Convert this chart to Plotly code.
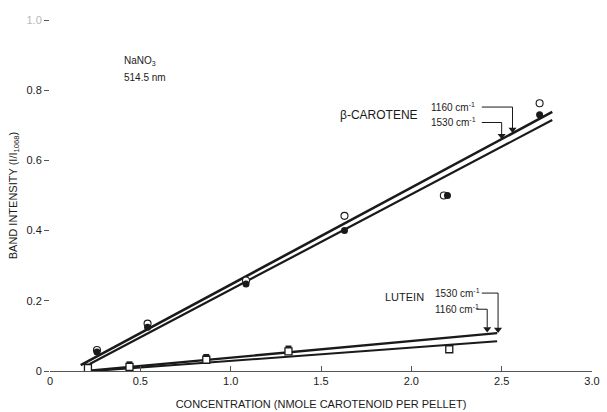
import plotly.graph_objects as go

# Beta-carotene band intensities (open = 1160 cm-1, filled = 1530 cm-1)
beta_conc = [0.26, 0.54, 1.085, 1.63, 2.18, 2.71]
beta_1160 = [0.060, 0.135, 0.258, 0.442, 0.500, 0.763]
beta_1530_conc = [0.26, 0.54, 1.085, 1.63, 2.20, 2.71]
beta_1530 = [0.054, 0.125, 0.248, 0.400, 0.500, 0.730]

# Lutein band intensities
lutein_conc = [0.21, 0.44, 0.865, 1.32, 2.21]
lutein_1160 = [0.008, 0.012, 0.032, 0.056, 0.062]
lutein_1530_conc = [0.21, 0.44, 0.865, 1.32]
lutein_1530 = [0.013, 0.019, 0.040, 0.064]

# Fitted lines
beta_fit_1160_x = [0.17, 2.78]
beta_fit_1160_y = [0.017, 0.738]
beta_fit_1530_x = [0.22, 2.78]
beta_fit_1530_y = [0.020, 0.715]
lutein_fit_1530_x = [0.20, 2.475]
lutein_fit_1530_y = [0.000, 0.108]
lutein_fit_1160_x = [0.24, 2.475]
lutein_fit_1160_y = [0.000, 0.085]

x_ticks = [0, 0.5, 1.0, 1.5, 2.0, 2.5, 3.0]
x_ticktext = ["0", "0.5", "1.0", "1.5", "2.0", "2.5", "3.0"]
y_ticks = [0, 0.2, 0.4, 0.6, 0.8, 1.0]
y_ticktext = ["0", "0.2", "0.4", "0.6", "0.8", "<span style='color:#b8b8b8'>1.0</span>"]

INK = "#1a1a1a"
FONT = "Liberation Sans"

fig = go.Figure()

def fit_line(x, y, w):
    fig.add_trace(go.Scatter(x=x, y=y, mode="lines",
                             line=dict(color=INK, width=w), hoverinfo="skip"))

fit_line(beta_fit_1160_x, beta_fit_1160_y, 2.6)
fit_line(beta_fit_1530_x, beta_fit_1530_y, 2.2)
fit_line(lutein_fit_1530_x, lutein_fit_1530_y, 2.4)
fit_line(lutein_fit_1160_x, lutein_fit_1160_y, 2.0)

# Lutein squares (filled behind, open in front)
fig.add_trace(go.Scatter(x=lutein_1530_conc, y=lutein_1530, mode="markers",
                         marker=dict(symbol="square", size=6, color=INK)))
fig.add_trace(go.Scatter(x=lutein_conc, y=lutein_1160, mode="markers",
                         marker=dict(symbol="square", size=7, color="white",
                                     line=dict(color=INK, width=1.3))))

# Beta-carotene circles
fig.add_trace(go.Scatter(x=beta_conc, y=beta_1160, mode="markers",
                         marker=dict(symbol="circle", size=7, color="white",
                                     line=dict(color=INK, width=1.1))))
fig.add_trace(go.Scatter(x=beta_1530_conc, y=beta_1530, mode="markers",
                         marker=dict(symbol="circle", size=7, color=INK)))

def label(x, y, text, anchor="left", size=10):
    fig.add_annotation(x=x, y=y, text=text, showarrow=False, xanchor=anchor,
                       yanchor="middle", font=dict(family=FONT, size=size, color=INK))

# Leader lines from the band labels down to the fitted lines
tips_x, tips_y = [], []

def pointer(x_text_end, x_arrow, y_text, y_tip):
    fig.add_shape(type="path",
                  path=f"M {x_text_end} {y_text} L {x_arrow} {y_text} L {x_arrow} {y_tip + 0.012}",
                  line=dict(color=INK, width=1))
    tips_x.append(x_arrow)
    tips_y.append(y_tip + 0.008)

label(0.40, 0.882, "NaNO<sub>3</sub>", size=10)
label(0.40, 0.835, "514.5 nm", size=10)

label(2.05, 0.730, "β-CAROTENE", anchor="right", size=12)
label(2.10, 0.752, "1160 cm<sup>-1</sup>", size=10)
label(2.10, 0.708, "1530 cm<sup>-1</sup>", size=10)
pointer(2.39, 2.56, 0.752, 0.680)
pointer(2.39, 2.50, 0.708, 0.662)

label(2.08, 0.210, "LUTEIN", anchor="right", size=11)
label(2.12, 0.222, "1530 cm<sup>-1</sup>", size=10)
label(2.12, 0.176, "1160 cm<sup>-1</sup>", size=10)
pointer(2.39, 2.48, 0.222, 0.110)
pointer(2.36, 2.42, 0.176, 0.112)

fig.add_trace(go.Scatter(x=tips_x, y=tips_y, mode="markers", hoverinfo="skip",
                         marker=dict(symbol="triangle-down", size=7, color=INK)))

fig.update_layout(
    width=607, height=412,
    margin=dict(l=50, r=15, t=20, b=41),
    paper_bgcolor="white", plot_bgcolor="white",
    showlegend=False,
    font=dict(family=FONT, size=11, color=INK),
    xaxis=dict(range=[0, 3.0], tickvals=x_ticks, ticktext=x_ticktext,
               showgrid=False, zeroline=False, showline=True,
               linecolor="#555", linewidth=1, ticks="inside", ticklen=5,
               tickcolor="#555", tickfont=dict(size=11), automargin=False,
               title=dict(text="CONCENTRATION (NMOLE CAROTENOID PER PELLET)",
                          font=dict(size=11), standoff=14)),
    yaxis=dict(range=[0, 1.0], tickvals=y_ticks, ticktext=y_ticktext,
               showgrid=False, zeroline=False, showline=False,
               ticks="outside", ticklen=5, tickcolor="#555",
               tickfont=dict(size=11), automargin=False,
               title=dict(text="BAND INTENSITY (I/I<sub>1068</sub>)",
                          font=dict(size=11), standoff=6)),
)

fig.write_html("out.html")
